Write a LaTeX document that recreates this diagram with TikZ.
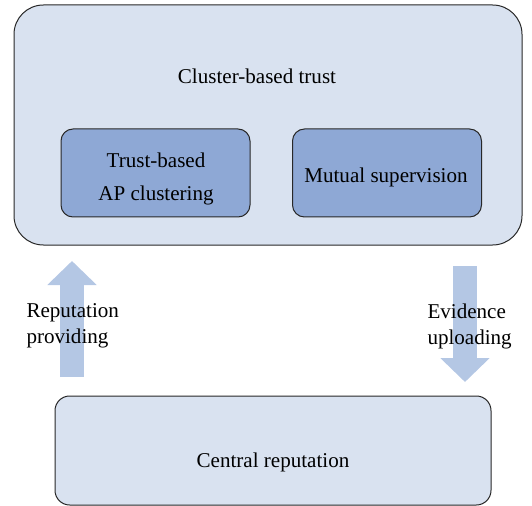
\documentclass[tikz,border=0pt]{standalone}
\usepackage{fontspec}
\setmainfont{Liberation Serif}
\usetikzlibrary{arrows.meta,positioning}

\definecolor{outerfill}{RGB}{217,226,240}
\definecolor{innerfill}{RGB}{142,168,213}
\definecolor{arrowfill}{RGB}{180,199,228}
\definecolor{boxline}{RGB}{40,40,40}

\tikzset{every picture/.style={line width=0.75pt}}
\tikzset{
  bigbox/.style={draw=boxline, fill=outerfill, rounded corners=22pt, inner sep=0pt},
  subbox/.style={draw=boxline, fill=innerfill, rounded corners=9pt, inner sep=0pt,
    minimum width=141.75pt, minimum height=66pt},
  txt/.style={font=\fontsize{15.8}{19.5}\selectfont, inner sep=0pt},
  blockarrow/.style={draw=arrowfill, line width=18pt, -{Triangle[length=18pt,width=36pt]}}
}

\begin{document}
\begin{tikzpicture}[x=0.75pt,y=0.75pt,yscale=-1,xscale=1]
\useasboundingbox (0,0) rectangle (532,506);

%Cluster box
\node [bigbox, minimum width=381pt, minimum height=180pt] (cluster) at (268,125) {};
\node [txt] (clustertitle) at (257,76) {Cluster-based trust};
\node [subbox] (apclust) at (155.5,173) {};
\node [txt, align=center, font=\fontsize{15.8}{25}\selectfont] (apclusttxt) at (156,179) {Trust-based\\AP clustering};
\node [subbox] (mutual) at (387,173) {};
\node [txt] (mutualtxt) at (386,177) {Mutual supervision};

%Central box
\node [bigbox, rounded corners=11pt, minimum width=327pt, minimum height=81.75pt] (central) at (273,450.5) {};
\node [txt] (centraltitle) at (273,462) {Central reputation};

%Arrows
\coordinate (upstart) at (72,377);
\coordinate (upend) at (72,261);
\coordinate (downstart) at (465,266);
\coordinate (downend) at (465,382);
\draw [blockarrow] (upstart) -- (upend);
\draw [blockarrow] (downstart) -- (downend);

\node [txt, align=left, anchor=west] (repprov) at (26,326) {Reputation\\providing};
\node [txt, align=left, anchor=west] (evidup) at (427,326) {Evidence\\uploading};

\end{tikzpicture}
\end{document}
